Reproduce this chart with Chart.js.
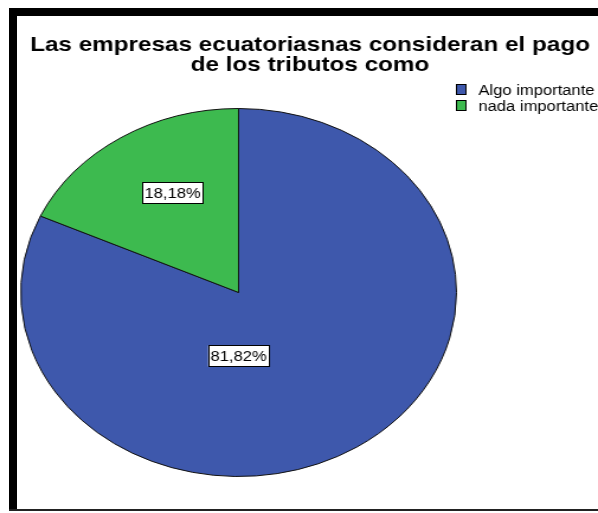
<!DOCTYPE html>
<html>
<head>
<meta charset="utf-8">
<script src="https://cdn.jsdelivr.net/npm/chart.js@4/dist/chart.umd.min.js"></script>
<style>
  html, body { margin: 0; padding: 0; background: #fff; }
  body { width: 598px; height: 513px; position: relative; overflow: hidden; }
  /* the chart is laid out narrower and widened horizontally, as in the exported graphic */
  #stage { position: absolute; left: 0; top: 0; width: 505px; height: 513px;
           transform: scaleX(1.18416); transform-origin: 0 0; }
  .frame { position: absolute; background: #000; z-index: 2; }
</style>
</head>
<body>
<div id="stage"><canvas id="chart"></canvas></div>
<div class="frame" style="left:9px;top:8px;width:589px;height:8px;"></div>
<div class="frame" style="left:9px;top:8px;width:8px;height:503px;"></div>
<div class="frame" style="left:9px;top:509px;width:589px;height:2px;background:#222;"></div>
<script>
const categories = ['Algo importante', 'nada importante'];
const percentages = [81.82, 18.18];
const titleLines = ['Las empresas ecuatoriasnas consideran el pago', 'de los tributos como'];

const sliceColors = ['#3e58ac', '#3dba4f'];
const FONT = '"Liberation Sans", Arial, Helvetica, sans-serif';

function pct(v) {
  return v.toFixed(2).replace('.', ',') + '%';
}

// Title, legend and boxed value labels drawn on top of the pie
const decorations = {
  id: 'decorations',
  afterDraw(chart, args, opts) {
    const ctx = chart.ctx;
    ctx.save();

    // title
    ctx.fillStyle = '#000';
    ctx.textAlign = 'center';
    ctx.textBaseline = 'alphabetic';
    ctx.font = 'bold ' + opts.titleSize + 'px ' + FONT;
    titleLines.forEach((line, i) => ctx.fillText(line, opts.titleX, opts.titleY + i * opts.titleLead));

    // legend
    const colors = chart.data.datasets[0].backgroundColor;
    ctx.textAlign = 'left';
    ctx.font = opts.legendSize + 'px ' + FONT;
    chart.data.labels.forEach((label, i) => {
      const base = opts.legendY + i * opts.legendLead;
      ctx.fillStyle = colors[i];
      ctx.fillRect(opts.legendX, base - opts.boxH, opts.boxW, opts.boxH);
      ctx.strokeStyle = '#000';
      ctx.lineWidth = 1;
      ctx.strokeRect(opts.legendX + 0.5, base - opts.boxH + 0.5, opts.boxW - 1, opts.boxH - 1);
      ctx.fillStyle = '#000';
      ctx.fillText(label, opts.legendX + opts.boxW + opts.legendGap, base);
    });

    // value labels in white boxes
    const meta = chart.getDatasetMeta(0);
    ctx.font = opts.labelSize + 'px ' + FONT;
    ctx.textAlign = 'center';
    ctx.textBaseline = 'middle';
    meta.data.forEach((arc, i) => {
      const p = arc.getProps(['x', 'y', 'outerRadius'], true);
      const off = opts.labelOffsets[i];
      const cx = p.x + off[0] * p.outerRadius;
      const cy = p.y + off[1] * p.outerRadius;
      const text = pct(chart.data.datasets[0].data[i]);
      const w = ctx.measureText(text).width + 4;
      const h = opts.labelH;
      ctx.fillStyle = '#fff';
      ctx.fillRect(cx - w / 2, cy - h / 2, w, h);
      ctx.strokeStyle = '#000';
      ctx.lineWidth = 1;
      ctx.strokeRect(Math.round(cx - w / 2) + 0.5, Math.round(cy - h / 2) + 0.5, Math.round(w), h);
      ctx.fillStyle = '#000';
      ctx.fillText(text, cx, cy + 1);
    });

    ctx.restore();
  }
};

new Chart(document.getElementById('chart'), {
  type: 'pie',
  data: {
    labels: categories,
    datasets: [{
      data: percentages,
      backgroundColor: sliceColors,
      borderColor: '#111',
      borderWidth: 1
    }]
  },
  options: {
    responsive: true,
    maintainAspectRatio: false,
    animation: false,
    events: [],
    layout: { padding: { left: 17, right: 119, top: 108, bottom: 36 } },
    plugins: {
      legend: { display: false },
      title: { display: false },
      tooltip: { enabled: false },
      decorations: {
        titleX: 261.8, titleY: 51, titleLead: 20, titleSize: 20.5,
        legendX: 385, legendY: 95, legendLead: 16, legendSize: 14,
        boxW: 9, boxH: 11, legendGap: 10,
        labelSize: 14, labelH: 21,
        labelOffsets: [[0, 0.345], [-0.303, -0.541]]
      }
    }
  },
  plugins: [decorations]
});
</script>
</body>
</html>
